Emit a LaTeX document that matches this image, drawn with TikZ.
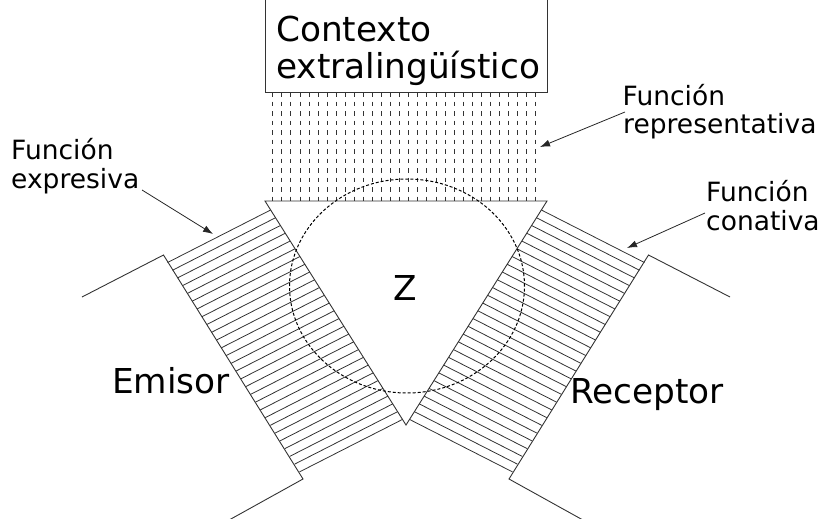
\documentclass[tikz,border=0pt]{standalone}
\usepackage{fontspec}
\setmainfont{DejaVu Sans}
\usetikzlibrary{arrows.meta,calc}
\newcommand\bigfs{\fontsize{34.3}{36}\selectfont}
\newcommand\smallfs{\fontsize{26.5}{28}\selectfont}
\begin{document}
\begin{tikzpicture}[x=1pt,y=-1pt,
  linec/.style={draw=black!80,line width=0.9pt},
  hatchline/.style={draw=black!80,line width=0.8pt},
  vdash/.style={draw=black!80,line width=0.8pt,dash pattern=on 4.5pt off 5pt},
  circdash/.style={draw=black,line width=1pt,dash pattern=on 3pt off 2pt},
  pointer/.style={draw=black!85,line width=0.8pt,-{Latex[length=10pt,width=7pt]}},
  big/.style={inner sep=0pt,anchor=base west,font=\bigfs},
  small/.style={inner sep=0pt,anchor=base west,font=\smallfs}]
\useasboundingbox (0,0) rectangle (819,519);
\clip (0,0) rectangle (819,519);
% triangle
\coordinate (T1) at (265,201);
\coordinate (T2) at (547,201);
\coordinate (T3) at (406,425);
% context box
\coordinate (B1) at (265,-10);
\coordinate (B2) at (265,92);
\coordinate (B3) at (547,92);
\coordinate (B4) at (547,-10);
\draw[linec] (B1) -- (B2) -- (B3) -- (B4);
% dashed vertical lines
\foreach \i in {0,...,29}
  \draw[vdash] (272.7+9.07*\i,92) -- (272.7+9.07*\i,201);
% left band
\coordinate (LA) at (270.6,210);
\coordinate (LB) at (402.5,419.4);
\coordinate (LC) at (167.6,262.5);
\coordinate (LD) at (299.5,471.9);
\foreach \i in {0,...,27}
  \draw[hatchline] ($(LA)!\i/27!(LB)$) -- ($(LC)!\i/27!(LD)$);
% right band
\coordinate (RA) at (541.4,210);
\coordinate (RB) at (409.5,419.4);
\coordinate (RC) at (644.4,262.5);
\coordinate (RD) at (512.5,471.9);
\foreach \i in {0,...,27}
  \draw[hatchline] ($(RA)!\i/27!(RB)$) -- ($(RC)!\i/27!(RD)$);
% triangle on top
\draw[linec] (T1) -- (T2) -- (T3) -- cycle;
% outlines
\coordinate (P1) at (82,297);
\coordinate (P2) at (163.5,255);
\coordinate (P3) at (303,479);
\coordinate (P4) at (230,519.5);
\draw[linec] (P1) -- (P2) -- (P3) -- (P4);
\coordinate (Q1) at (730,297);
\coordinate (Q2) at (648.5,255);
\coordinate (Q3) at (509,479);
\coordinate (Q4) at (582,519.5);
\draw[linec] (Q1) -- (Q2) -- (Q3) -- (Q4);
% dashed circle
\draw[circdash] (407,286) ellipse [x radius=117.5pt, y radius=107pt];
% texts
\node[big] (ctx1) at (276,42) {Contexto};
\node[big] (ctx2) at (276,78) {extralingüístico};
\node[big,anchor=base] (z) at (405,300) {Z};
\node[big] (emi) at (112,393) {Emisor};
\node[big] (rec) at (570,403) {Receptor};
\node[small] (fr1) at (622.5,105) {Función};
\node[small] (fr2) at (623,133.3) {representativa};
\node[small] (fe1) at (11,159.3) {Función};
\node[small] (fe2) at (11,188.3) {expresiva};
\node[small] (fc1) at (706,201.7) {Función};
\node[small] (fc2) at (706,230) {conativa};
% pointers
\coordinate (ar1) at (625,112);
\coordinate (ar2) at (540,147);
\coordinate (ae1) at (142,190);
\coordinate (ae2) at (213,234);
\coordinate (ac1) at (705,213);
\coordinate (ac2) at (627,248);
\draw[pointer] (ar1) -- (ar2);
\draw[pointer] (ae1) -- (ae2);
\draw[pointer] (ac1) -- (ac2);
\end{tikzpicture}
\end{document}
